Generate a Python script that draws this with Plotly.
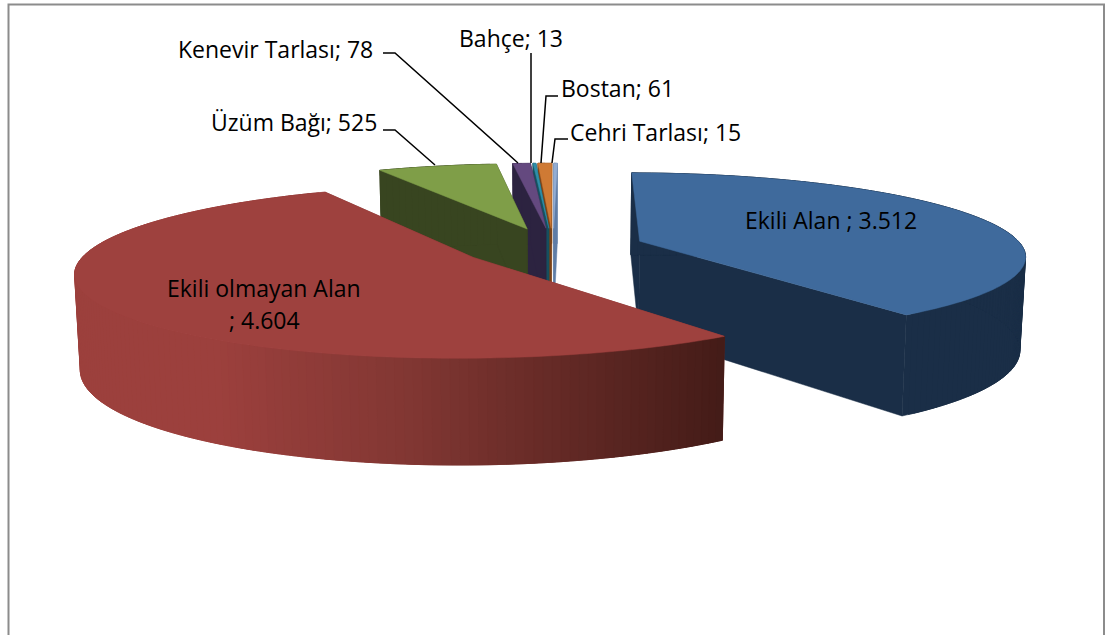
import math
import plotly.graph_objects as go

categories = ["Ekili Alan", "Ekili olmayan Alan", "Üzüm Bağı", "Kenevir Tarlası", "Bahçe", "Bostan", "Cehri Tarlası"]
values = [3512, 4604, 525, 78, 13, 61, 15]
value_labels = ["3.512", "4.604", "525", "78", "13", "61", "15"]
top_colors = ["#3f6a9c", "#9e413e", "#7f9e48", "#64497f", "#2f8ea8", "#cf7a34", "#93add3"]
wall_colors = ["#1a2e47", "#9e403d", "#384520", "#2c2340", "#16505f", "#7a4318", "#5f7da6"]

CX, CY, RX, K, T, H, EXPLODE, ROT = 553, 247, 383, 81, 0.16, 92, 0.24, 0.012

def project(X, Y, z=0.0):
    p = 1 / (1 - T * Y)
    sx = CX + RX * X * p * (1 - 0.012 * z)
    return sx, CY + K * Y * p + z * H * p ** 0.75

fig = go.Figure()

def poly(pts, color):
    xs = [a for a, _ in pts] + [pts[0][0]]
    ys = [b for _, b in pts] + [pts[0][1]]
    fig.add_trace(go.Scatter(x=xs, y=ys, mode="lines", fill="toself", fillcolor=color,
                             line=dict(color=color, width=0.5, simplify=False),
                             hoverinfo="skip", showlegend=False))

def mix(a, b, f):
    ca = [int(a[i:i + 2], 16) for i in (1, 3, 5)]
    cb = [int(b[i:i + 2], 16) for i in (1, 3, 5)]
    return "rgb(%d,%d,%d)" % tuple(round(u + (v - u) * f) for u, v in zip(ca, cb))

def wall_color(i, sx):
    if i != 1:
        return wall_colors[i]
    if sx < 210:
        return "#9c403d"
    if sx < 400:
        return mix("#9c403d", "#823733", (sx - 210) / 190)
    return mix("#823733", "#431b17", (sx - 400) / 325)

total = sum(values)
bounds = [ROT]
for v in values:
    bounds.append(bounds[-1] + v / total * 2 * math.pi)

slices = []
for i in range(len(values)):
    a0, a1 = bounds[i], bounds[i + 1]
    mid = (a0 + a1) / 2
    ox, oy = EXPLODE * math.sin(mid), -EXPLODE * math.cos(mid)
    n = max(2, int((a1 - a0) / 0.02))
    arc = [(ox + math.sin(a0 + (a1 - a0) * j / n), oy - math.cos(a0 + (a1 - a0) * j / n)) for j in range(n + 1)]
    slices.append(((ox, oy), arc))

for i in [6, 5, 4, 3, 2, 0, 1]:
    (ox, oy), arc = slices[i]
    # radial side walls
    for edge in (arc[0], arc[-1]):
        poly([project(ox, oy), project(*edge), project(*edge, 1), project(ox, oy, 1)],
             wall_colors[i] if i != 1 else "#843734")
    # outer wall: strips, each running on past the next one, so that no seam shows
    for j in range(len(arc) - 1, 0, -1):
        part = arc[max(0, j - 3):j + 1]
        poly([project(*q) for q in part] + [project(*q, 1) for q in reversed(part)],
             wall_color(i, project(*arc[j])[0]))
    # top
    poly([project(ox, oy)] + [project(*q) for q in arc], top_colors[i])

def seg(pts):
    fig.add_trace(go.Scatter(x=[q[0] for q in pts], y=[q[1] for q in pts], mode="lines",
                             line=dict(color="#000000", width=1.5), hoverinfo="skip", showlegend=False))

seg([(383, 53), (395, 53), (518, 163)])
seg([(383, 130), (395, 130), (435, 165)])
seg([(531, 53), (531, 163)])
seg([(558, 96), (546, 96), (541, 163)])
seg([(568, 139), (555, 139), (552, 163)])

font = dict(family="'Open Sans', sans-serif", size=23, color="#000000")
def lab(x, y, text, anchor="left"):
    fig.add_annotation(x=x, y=y, text=text, showarrow=False, xanchor=anchor, yanchor="middle", font=font, align="center")

lab(176, 49, f"{categories[3]}; {value_labels[3]}")
lab(209, 122, f"{categories[2]}; {value_labels[2]}")
lab(457, 38, f"{categories[4]}; {value_labels[4]}")
lab(559, 88, f"{categories[5]}; {value_labels[5]}")
lab(568, 132, f"{categories[6]}; {value_labels[6]}")
lab(831, 220, f"{categories[0]} ; {value_labels[0]}", "center")
lab(264, 288, categories[1], "center")
lab(264, 320, f"; {value_labels[1]}", "center")

fig.add_shape(type="rect", x0=8.5, y0=4.5, x1=1104, y1=660, line=dict(color="#8c8c8c", width=2), fillcolor="rgba(0,0,0,0)", layer="below")

fig.update_xaxes(visible=False, range=[0, 1105], fixedrange=True)
fig.update_yaxes(visible=False, range=[635, 0], fixedrange=True)
fig.update_layout(width=1105, height=635, margin=dict(l=0, r=0, t=0, b=0), paper_bgcolor="#ffffff",
                  plot_bgcolor="#ffffff", showlegend=False)
fig.write_html("out.html", config={"displayModeBar": False},
               post_script="document.body.style.margin='0';document.body.style.overflow='hidden';")
